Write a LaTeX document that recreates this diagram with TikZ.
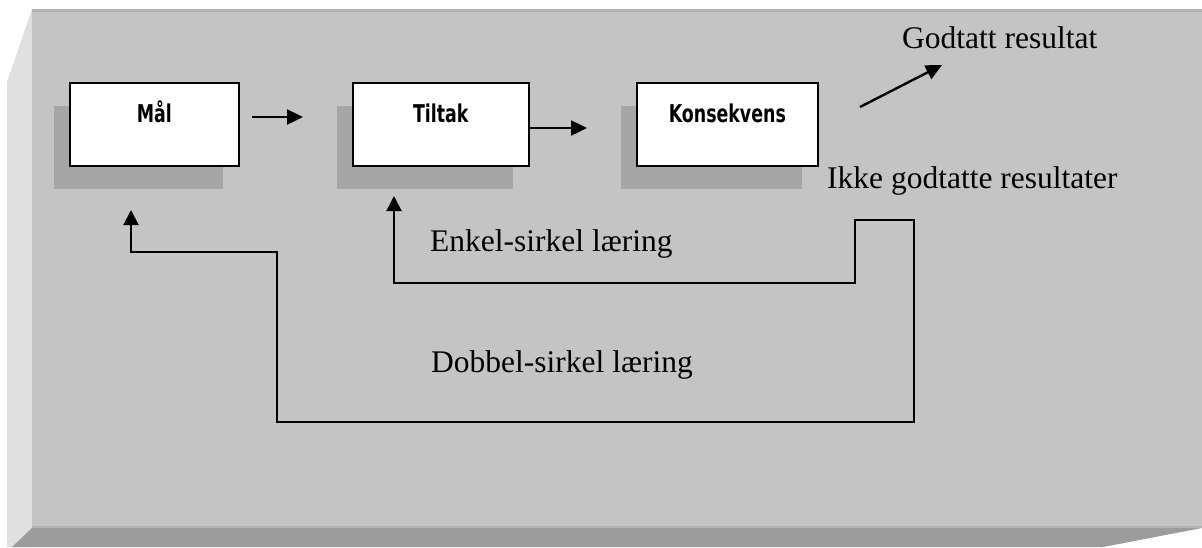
\documentclass[tikz,border=0pt]{standalone}
\usepackage{fontspec}
\setmainfont{Liberation Serif}
\newfontfamily\boxfont[FakeStretch=0.71]{DejaVu Sans}
\usetikzlibrary{arrows.meta,shadows}

\definecolor{face}{HTML}{C4C4C4}
\definecolor{bevel}{HTML}{E0E0E0}
\definecolor{basecol}{HTML}{9C9C9C}
\definecolor{edgecol}{HTML}{B3B3B3}
\definecolor{shade}{HTML}{A6A6A6}

\begin{document}
\begin{tikzpicture}[x=1pt,y=-1pt,
  stepbox/.style={draw=black, line width=1.6pt, fill=white, anchor=north west,
    inner xsep=0pt, inner ysep=0pt, text height=40pt, text depth=43pt,
    font=\boxfont\bfseries\fontsize{24.5}{30}\selectfont,
    general shadow={fill=shade, shadow xshift=-16pt, shadow yshift=-23pt}},
  lbl/.style={inner sep=0pt, anchor=base west, font=\fontsize{31.5}{36}\selectfont},
  flow/.style={line width=2.4pt, -{Triangle[length=16pt,width=15pt]}},
  feedback/.style={line width=2pt, line join=miter,
    {Triangle[length=15pt,width=15pt]}-{Triangle[length=15pt,width=15pt]}}]

% page and bevelled panel
\useasboundingbox (0,0) rectangle (1202,547);
\fill[white] (0,0) rectangle (1202,547);
\fill[bevel] (32,9) -- (7,82) -- (7,547) -- (32,547) -- cycle;
\fill[face] (32,9) rectangle (1202,528);
\fill[edgecol] (32,9) rectangle (1202,11.5);
\fill[edgecol] (32,526) rectangle (1202,528);
\fill[basecol] (32,528) -- (1202,528) -- (1103,547) -- (12,547) -- cycle;

% process boxes
\node[stepbox, minimum width=169pt] (mal) at (69,82) {Mål};
\node[stepbox, minimum width=176pt] (tiltak) at (352,82) {Tiltak};
\node[stepbox, minimum width=181pt] (kons) at (636,82) {Konsekvens};

% labels
\node[lbl] (godtatt) at (902,48) {Godtatt resultat};
\node[lbl] (ikke) at (827,188) {Ikke godtatte resultater};
\node[lbl] (enkel) at (430,251) {Enkel-sirkel læring};
\node[lbl] (dobbel) at (431,372) {Dobbel-sirkel læring};

% forward arrows
\coordinate (a1s) at (252,117);
\coordinate (a1e) at (303,117);
\coordinate (a2e) at (587,128);
\coordinate (a3s) at (860,107);
\coordinate (a3e) at (942,65);
\draw[flow] (a1s) -- (a1e);
\draw[flow] (tiltak.east |- a2e) -- (a2e);
\draw[flow] (a3s) -- (a3e);

% feedback loops
\coordinate (malIn) at (131,210);
\coordinate (tiltakIn) at (394,196);
\draw[feedback] (malIn) -- (131,252) -- (277,252) -- (277,422) -- (914,422)
  -- (914,220) -- (855,220) -- (855,283) -- (394,283) -- (tiltakIn);
\end{tikzpicture}
\end{document}
